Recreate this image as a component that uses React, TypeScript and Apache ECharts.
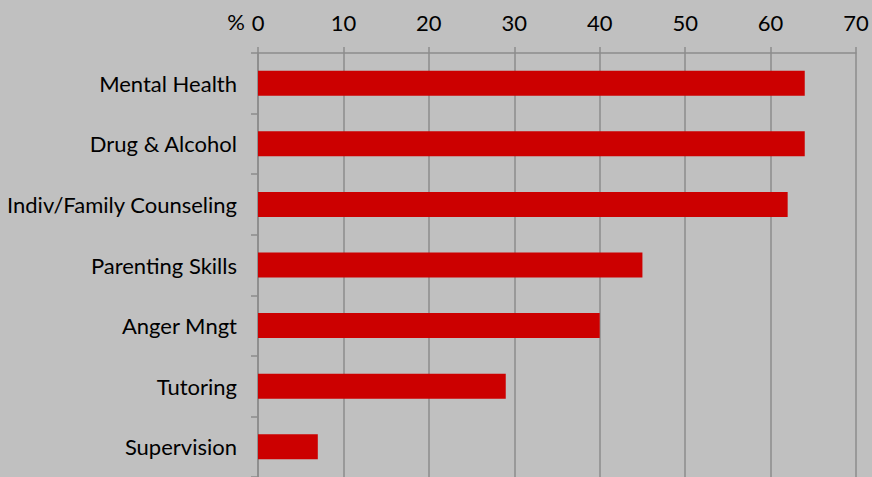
import React, { useEffect, useRef } from "react";
import * as echarts from "echarts";

const categories = [
  "Mental Health",
  "Drug & Alcohol",
  "Indiv/Family Counseling",
  "Parenting Skills",
  "Anger Mngt",
  "Tutoring",
  "Supervision",
];
const values = [64, 64, 62, 45, 40, 29, 7];
const xTicks = [0, 10, 20, 30, 40, 50, 60, 70];

const FONT = "'Gill Sans MT', 'Gill Sans', Lato, sans-serif";

export default function App() {
  const ref = useRef<HTMLDivElement>(null);
  useEffect(() => {
    document.body.style.margin = "0";
    const chart = echarts.init(ref.current!, null, { renderer: "svg" });
    chart.setOption({
      animation: false,
      backgroundColor: "#c0c0c0",
      grid: { left: 258, right: 16, top: 53, bottom: -5 },
      xAxis: {
        type: "value",
        position: "top",
        min: xTicks[0],
        max: xTicks[xTicks.length - 1],
        interval: 10,
        axisLine: { show: true, lineStyle: { color: "#8c8c8c", width: 1.5 } },
        axisTick: { show: true, inside: false, length: 6, lineStyle: { color: "#8c8c8c", width: 1.5 } },
        splitLine: { show: true, lineStyle: { color: "#8c8c8c", width: 1.5 } },
        axisLabel: { color: "#000", fontSize: 22, fontFamily: FONT, margin: 20 },
      },
      yAxis: {
        type: "category",
        data: categories,
        inverse: true,
        axisLine: { show: true, lineStyle: { color: "#8c8c8c", width: 1.5 } },
        axisTick: { show: true, length: 7, lineStyle: { color: "#8c8c8c", width: 1.5 } },
        axisLabel: { color: "#000", fontSize: 22, fontFamily: FONT, margin: 21 },
      },
      graphic: [
        {
          type: "text",
          right: 872 - 245,
          top: 10,
          style: { text: "%", fill: "#000", fontSize: 22, fontFamily: FONT },
        },
      ],
      series: [
        {
          type: "bar",
          data: values,
          barWidth: 25,
          itemStyle: { color: "#cc0000" },
        },
      ],
    });
    return () => chart.dispose();
  }, []);
  return <div ref={ref} style={{ width: 872, height: 477 }} />;
}
